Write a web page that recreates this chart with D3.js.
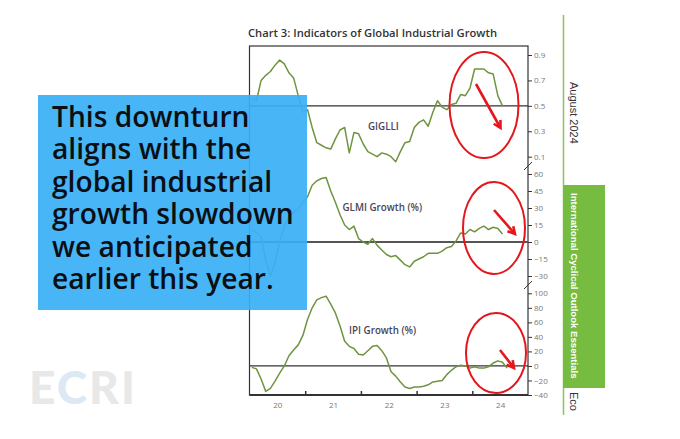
<!DOCTYPE html>
<html><head><meta charset="utf-8">
<script src="https://cdn.jsdelivr.net/npm/d3@7"></script>
<style>
html,body{margin:0;padding:0;background:#fff;}
svg{display:block;}
</style></head>
<body>
<svg id="c" width="680" height="439"></svg>
<script>
// ---- data (monthly, starting Jan 2020) ----
const startYear = 2020;
const gigLLI = [0.56,0.54,0.70,0.74,0.77,0.82,0.86,0.83,0.76,0.72,0.58,0.45,
  0.47,0.33,0.21,0.19,0.17,0.16,0.24,0.31,0.33,0.13,0.29,0.28,
  0.20,0.14,0.12,0.10,0.13,0.12,0.10,0.06,0.14,0.21,0.22,0.33,
  0.37,0.39,0.34,0.45,0.54,0.49,0.47,0.51,0.52,0.59,0.58,0.64,
  0.79,0.79,0.79,0.76,0.75,0.58,0.50];
const glmiGrowth = [11,8,5,-16,-30,-18,0,14,22,26,29,35,
  40,50,54,56,57,45,35,24,15,11,14,3,
  0,-2,3,-3,-7,-11,-13,-12,-16,-20,-22,-17,
  -15,-13,-10,-10,-10,-8,-5,-4,1,8,7,11,
  9,12,14,11,13,12,7];
const ipiGrowth = [-2,-4,-18,-35,-31,-21,-10,0,14,22,29,42,
  64,80,91,94,96,85,73,55,34,27,24,16,
  15,21,27,28,21,11,-8,-14,-22,-29,-31,-29,
  -29,-28,-26,-22,-21,-20,-12,-6,-1,1,0,-3,
  -1,-3,-3,-1,4,7,5,-3];
const yearLabels = ["20","21","22","23","24"];
const gigTicks = [0.1,0.3,0.5,0.7,0.9];
const glmiTicks = [-30,-15,0,15,30,45,60];
const ipiTicks = [-40,-20,0,20,40,60,80,100];
const seriesNames = ["GIGLLI","GLMI Growth (%)","IPI Growth (%)"];
const refValues = [0.5, 0, 0];
const chartTitle = "Chart 3: Indicators of Global Industrial Growth";
const calloutLines = ["This downturn","aligns with the","global industrial","growth slowdown","we anticipated","earlier this year."];

// ---- layout ----
const svg = d3.select("#c");
const L = 249.5, R = 528, T = 46, B = 395;
const x = d3.scaleLinear().domain([2020, 2025]).range([L, R]);
const y1 = d3.scaleLinear().domain([0.1, 0.9]).range([156.7, 55]);
const y2 = d3.scaleLinear().domain([-30, 60]).range([276, 174]);
const y3 = d3.scaleLinear().domain([-40, 100]).range([395, 293.3]);
const tx = i => startYear + (i + 0.5) / 12;
const lineCol = "#6f9440";
const axisTxt = "#777";

// title
svg.append("text").attr("x", 248).attr("y", 37).text(chartTitle)
  .attr("font-family","Open Sans").attr("font-weight",600).attr("font-size",11.2).attr("fill","#333");

// frame
svg.append("rect").attr("x",L).attr("y",T).attr("width",R-L).attr("height",B-T)
  .attr("fill","none").attr("stroke","#333").attr("stroke-width",1.2);
svg.append("line").attr("x1",L).attr("x2",R).attr("y1",B).attr("y2",B).attr("stroke","#333").attr("stroke-width",2);

// reference lines
[[y1,refValues[0],1.3,"#333"],[y2,refValues[1],2,"#555"],[y3,refValues[2],1.3,"#333"]].forEach(([s,v,w,c])=>{
  svg.append("line").attr("x1",L).attr("x2",R).attr("y1",s(v)).attr("y2",s(v)).attr("stroke",c).attr("stroke-width",w);
});

// series
const series = [[gigLLI,y1],[glmiGrowth,y2],[ipiGrowth,y3]];
series.forEach(([data,s])=>{
  const ln = d3.line().x((d,i)=>x(tx(i))).y(d=>s(d));
  svg.append("path").datum(data).attr("d",ln).attr("fill","none")
    .attr("stroke",lineCol).attr("stroke-width",1.5).attr("stroke-linejoin","round");
});

// right axes
function rAxis(s, ticks, fmt){
  const g = svg.append("g").attr("transform",`translate(${R},0)`)
    .call(d3.axisRight(s).tickValues(ticks).tickSize(4).tickPadding(2).tickFormat(fmt));
  g.select(".domain").remove();
  g.selectAll("line").attr("stroke","#333");
  g.selectAll("text").attr("font-family","Open Sans").attr("font-size",8).attr("fill",axisTxt);
}
rAxis(y1, gigTicks, d3.format(".1f"));
rAxis(y2, glmiTicks, d3.format("d"));
rAxis(y3, ipiTicks, d3.format("d"));
// break marks
[166, 285].forEach(yy=>{
  svg.append("line").attr("x1",R-4).attr("x2",R+4).attr("y1",yy+4).attr("y2",yy-4).attr("stroke","#333").attr("stroke-width",1);
});

// x axis
const gx = svg.append("g").attr("transform",`translate(0,${B})`)
  .call(d3.axisBottom(x).tickValues([2021,2022,2023,2024]).tickSize(-4).tickFormat(""));
gx.select(".domain").remove();
gx.selectAll("line").attr("stroke","#333").attr("stroke-width",1.5);
const gl = svg.append("g").attr("transform",`translate(0,${B})`)
  .call(d3.axisBottom(x).tickValues(yearLabels.map((d,i)=>startYear+i+0.5)).tickSize(0).tickPadding(7)
    .tickFormat((d,i)=>yearLabels[i]));
gl.select(".domain").remove();
gl.selectAll("text").attr("font-family","Open Sans").attr("font-size",8).attr("fill",axisTxt);

// series labels
[[seriesNames[0],368,130],[seriesNames[1],342.5,210.5],[seriesNames[2],349,334]].forEach(([t,xx,yy])=>{
  svg.append("text").attr("x",xx).attr("y",yy).text(t).attr("font-family","Open Sans")
    .attr("font-weight",600).attr("font-size",9.8).attr("fill","#4a4458");
});

// red annotations
const red = "#e3171c";
[[484,105,34.5,53],[494,228,31,46],[496,353,30,40]].forEach(([cx,cy,rx,ry])=>{
  svg.append("ellipse").attr("cx",cx).attr("cy",cy).attr("rx",rx).attr("ry",ry)
    .attr("fill","none").attr("stroke",red).attr("stroke-width",2);
});
[[476,84,500.5,128],[494,210,515,234],[500,350,514,368]].forEach(([x1,y1_,x2,y2_])=>{
  const a = Math.atan2(y2_-y1_, x2-x1), h = 8;
  svg.append("line").attr("x1",x1).attr("y1",y1_).attr("x2",x2-Math.cos(a)*2).attr("y2",y2_-Math.sin(a)*2)
    .attr("stroke",red).attr("stroke-width",2.6);
  const p = [[x2 - h*Math.cos(a-0.5), y2_ - h*Math.sin(a-0.5)],[x2,y2_],[x2 - h*Math.cos(a+0.5), y2_ - h*Math.sin(a+0.5)]];
  svg.append("path").attr("d", d3.line()(p)).attr("fill","none").attr("stroke",red)
    .attr("stroke-width",2.6).attr("stroke-linejoin","miter");
});

// right side banner
svg.append("line").attr("x1",563.5).attr("x2",563.5).attr("y1",15).attr("y2",415).attr("stroke","#8cc35a").attr("stroke-width",1.5);
svg.append("rect").attr("x",563).attr("y",185).attr("width",42).attr("height",203).attr("fill","#76bc40");
svg.append("text").attr("transform","translate(570,82) rotate(90)").text("August 2024")
  .attr("font-family","Liberation Sans").attr("font-size",11).attr("fill","#333");
svg.append("text").attr("transform","translate(571,193) rotate(90)").text("International Cyclical Outlook Essentials")
  .attr("font-family","Liberation Sans").attr("font-weight",700).attr("font-size",9.6).attr("fill","#fff");
svg.append("text").attr("transform","translate(570,392) rotate(90)").text("Eco")
  .attr("font-family","Liberation Sans").attr("font-size",11).attr("fill","#333");

// ECRI watermark
const ecri = svg.append("text").attr("x",29).attr("y",404).attr("font-family","Lato").attr("font-weight",900)
  .attr("font-size",46).attr("letter-spacing",2);
ecri.append("tspan").text("E").attr("fill","#e8e8e8");
ecri.append("tspan").text("C").attr("fill","#dce9f4");
ecri.append("tspan").text("RI").attr("fill","#e8e8e8");

// callout box
svg.append("rect").attr("x",38).attr("y",95).attr("width",269).attr("height",215)
  .attr("fill","#38b0f5").attr("fill-opacity",0.92);
const ct = svg.append("text").attr("font-family","Open Sans").attr("font-weight",600)
  .attr("font-size",28.2).attr("fill","#0b0f14");
calloutLines.forEach((t,i)=>{
  ct.append("tspan").attr("x",52).attr("y",127 + i*32.4).text(t);
});
</script>
</body></html>
